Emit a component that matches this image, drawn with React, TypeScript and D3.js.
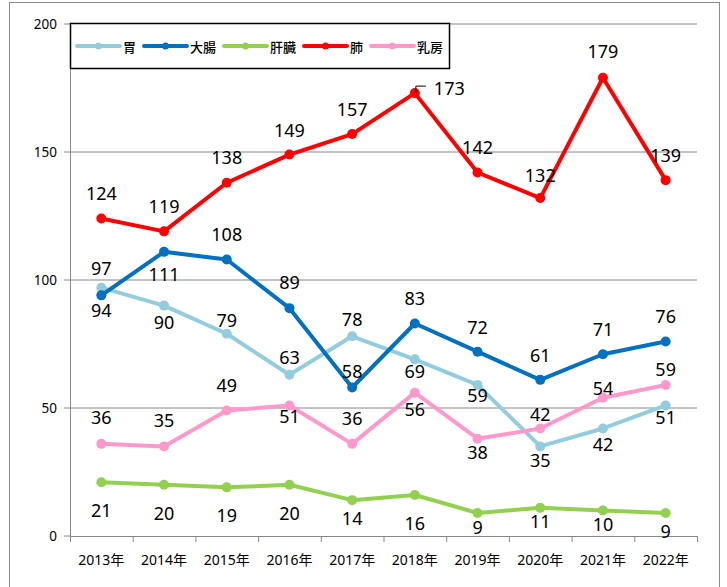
import * as d3 from "d3";
import React from "react";

// years on the category axis
const years = ["2013年", "2014年", "2015年", "2016年", "2017年", "2018年", "2019年", "2020年", "2021年", "2022年"];

// one array per site
const stomach = [97, 90, 79, 63, 78, 69, 59, 35, 42, 51];
const colon = [94, 111, 108, 89, 58, 83, 72, 61, 71, 76];
const liver = [21, 20, 19, 20, 14, 16, 9, 11, 10, 9];
const lung = [124, 119, 138, 149, 157, 173, 142, 132, 179, 139];
const breast = [36, 35, 49, 51, 36, 56, 38, 42, 54, 59];

const yTicks = [0, 50, 100, 150, 200];

// where each data label sits relative to its point (vertical, px)
const stomachLabelDy = [-20, 16, -14, -18, -17, 12, 10, 14, 16, 12];
const colonLabelDy = [15, 22, -26, -26, -17, -26, -25, -25, -25, -25];
const liverLabelDy = [28, 28, 28, 28, 18, 28, 14, 13, 14, 18];
const lungLabelDy = [-26, -25, -26, -25, -25, -5, -25, -23, -27, -25];
const breastLabelDy = [-27, -26, -26, 11, -26, 16, 13, -14, -10, -16];

const series = [
  { name: "胃", values: stomach, color: "#93CDDD", dy: stomachLabelDy },
  { name: "大腸", values: colon, color: "#0070C0", dy: colonLabelDy },
  { name: "肝臓", values: liver, color: "#92D050", dy: liverLabelDy },
  { name: "肺", values: lung, color: "#FF0000", dy: lungLabelDy },
  { name: "乳房", values: breast, color: "#FF99CC", dy: breastLabelDy },
];

const W = 727;
const H = 587;
const left = 70;
const right = 697;
const top = 24;
const bottom = 536;

const numFont = "'Noto Sans', 'Noto Sans CJK JP', sans-serif";
const jpFont = "'Noto Sans CJK JP', 'Noto Sans', sans-serif";
const grid = "#868686";

const App: React.FC = () => {
  const x = d3.scaleBand<string>().domain(years).range([left, right]);
  const y = d3.scaleLinear().domain([0, 200]).range([bottom, top]);
  const cx = (i: number) => (x(years[i]) as number) + x.bandwidth() / 2;

  const line = d3
    .line<number>()
    .x((_, i) => cx(i))
    .y((d) => y(d));

  // legend layout
  let lx = 77;
  const legendItems = series.map((s) => {
    const item = { ...s, x: lx };
    lx += 43 + 3 + 13 * s.name.length + 8;
    return item;
  });

  const peak = lung.indexOf(173);

  return (
    <svg width={W} height={H} style={{ position: "absolute", left: 0, top: 0 }}>
      <rect x={0} y={0} width={W} height={H} fill="#fff" />
      <rect x={9.5} y={2.5} width={710} height={640} fill="none" stroke="#8c8c8c" />

      {/* gridlines + y axis */}
      {yTicks.map((t) => (
        <g key={t}>
          <line x1={left - 6} x2={t === 0 ? left : right} y1={y(t)} y2={y(t)} stroke={grid} />
          <text x={57} y={y(t)} dominantBaseline="central" textAnchor="end" fontSize={13.5} fontFamily={numFont} fill="#000">
            {t}
          </text>
        </g>
      ))}
      <line x1={left + 0.5} x2={left + 0.5} y1={top} y2={bottom} stroke={grid} />
      <line x1={left} x2={right} y1={bottom + 0.5} y2={bottom + 0.5} stroke={grid} />
      {[...years.map((yr) => x(yr) as number), right].map((tx, i) => (
        <line key={i} x1={tx + 0.5} x2={tx + 0.5} y1={bottom} y2={bottom + 6} stroke={grid} />
      ))}
      {years.map((yr, i) => (
        <text key={yr} x={cx(i)} y={559} dominantBaseline="central" textAnchor="middle" fontSize={14} fontFamily={numFont} fill="#000">
          {yr}
        </text>
      ))}

      {/* series */}
      {series.map((s) => (
        <g key={s.name}>
          <path d={line(s.values) || ""} fill="none" stroke={s.color} strokeWidth={4} strokeLinejoin="round" />
          {s.values.map((v, i) => (
            <circle key={i} cx={cx(i)} cy={y(v)} r={5} fill={s.color} />
          ))}
        </g>
      ))}

      {/* data labels */}
      {series.map((s) =>
        s.values.map((v, i) => {
          const isPeak = s.values === lung && i === peak;
          const px = cx(i);
          const py = y(v);
          return (
            <g key={s.name + i}>
              {isPeak && (
                <polyline
                  points={`${px + 1},${py} ${px + 1},${py - 7} ${px + 11},${py - 7}`}
                  fill="none"
                  stroke="#000"
                  strokeWidth={1}
                />
              )}
              <text
                x={isPeak ? px + 19 : px}
                y={py + s.dy[i]}
                dominantBaseline="central"
                textAnchor={isPeak ? "start" : "middle"}
                fontSize={18}
                fontFamily={numFont}
                fill="#000"
              >
                {v}
              </text>
            </g>
          );
        })
      )}

      {/* legend */}
      <rect x={70.5} y={23.5} width={379} height={45} fill="#fff" stroke="#000" strokeWidth={1.5} />
      {legendItems.map((s) => (
        <g key={s.name}>
          <line x1={s.x} x2={s.x + 43} y1={46} y2={46} stroke={s.color} strokeWidth={4} strokeLinecap="round" />
          <circle cx={s.x + 21.5} cy={46} r={3.5} fill={s.color} />
          <text x={s.x + 46} y={46} dominantBaseline="central" fontSize={13} fontWeight={500} fontFamily={jpFont} fill="#000">
            {s.name}
          </text>
        </g>
      ))}
    </svg>
  );
};

export default App;
